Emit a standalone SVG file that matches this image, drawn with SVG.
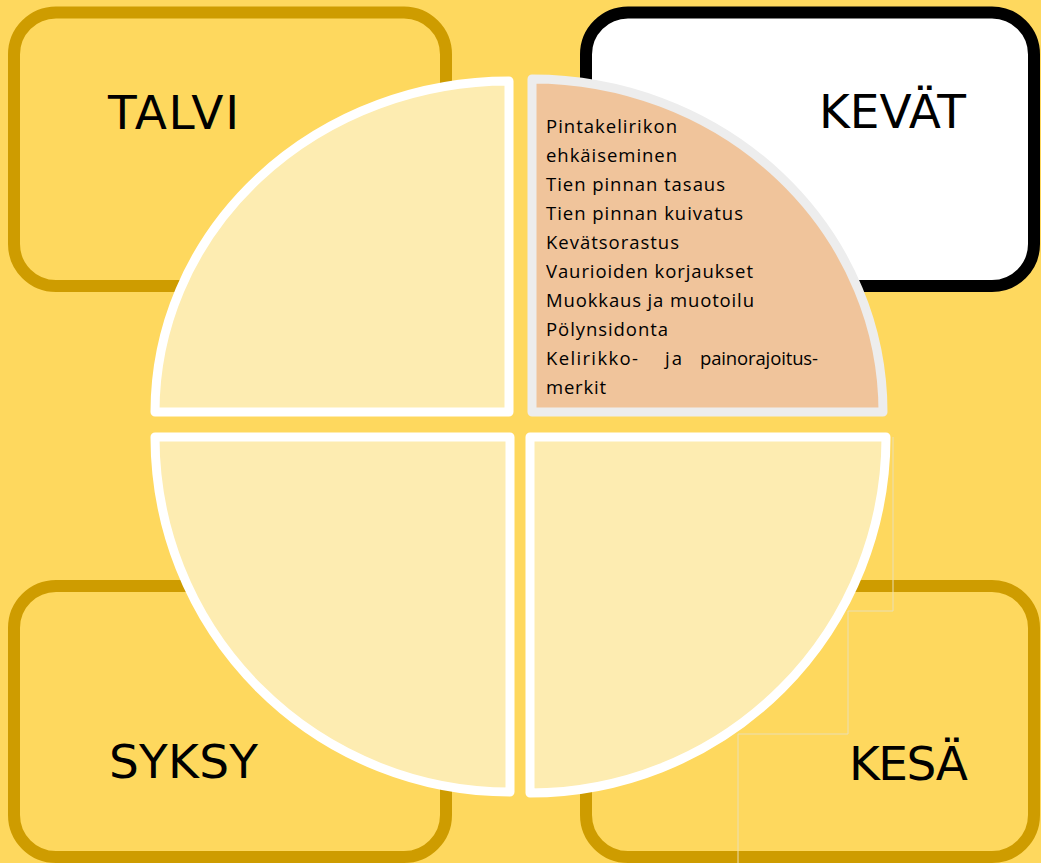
<svg xmlns="http://www.w3.org/2000/svg" width="1041" height="863" viewBox="0 0 1041 863">
  <style>
    .box { fill: #FED85E; stroke: #CE9C00; stroke-width: 12; }
    .boxw { fill: #FFFFFF; stroke: #000000; stroke-width: 12; }
    .season { font-family: "DejaVu Sans", Verdana, sans-serif; font-size: 47px; fill: #000000; }
    .q { fill: #FDECB1; stroke: #FFFFFF; stroke-width: 9; stroke-linejoin: round; }
    .qs { fill: #F0C49B; stroke: #EDEDED; stroke-width: 9; stroke-linejoin: round; }
    .item { font-family: "Open Sans", "Noto Sans", sans-serif; font-size: 18.5px; fill: #000000; }
    .seam { fill: none; stroke: #EADFB4; stroke-width: 1; }
  </style>
  <rect x="0" y="0" width="1041" height="863" fill="#FED85E"/>

  <g id="talvi">
    <rect class="box" x="14" y="12.5" width="432" height="273.5" rx="42" ry="42"/>
    <text class="season" x="108" y="129" textLength="131" lengthAdjust="spacing">TALVI</text>
  </g>
  <g id="kevat">
    <rect class="boxw" x="586" y="12.5" width="448" height="273.5" rx="42" ry="42"/>
    <text class="season" x="819" y="128" textLength="147" lengthAdjust="spacing">KEVÄT</text>
  </g>
  <g id="syksy">
    <rect class="box" x="14" y="586" width="432" height="271" rx="42" ry="42"/>
    <text class="season" x="109" y="778" textLength="149" lengthAdjust="spacing">SYKSY</text>
  </g>
  <g id="kesa">
    <rect class="box" x="586" y="586" width="448" height="271" rx="42" ry="42"/>
    <text class="season" x="849" y="780" textLength="119" lengthAdjust="spacing">KESÄ</text>
  </g>

  <g id="seams">
    <polyline class="seam" points="893,437 893,611 848,611 848,734 738,734 738,863"/>
  </g>

  <g id="quarter-talvi">
    <path class="q" d="M509,81 L509,412 L155,412 A354,331 0 0 1 509,81 Z"/>
  </g>
  <g id="quarter-syksy">
    <path class="q" d="M510,437 L155,437 A355,355 0 0 0 510,792 Z"/>
  </g>
  <g id="quarter-kesa">
    <path class="q" d="M530,437 L886,437 A356,356 0 0 1 530,793 Z"/>
  </g>
  <g id="quarter-kevat">
    <path class="qs" d="M532,79 L532,412 L883,412 A351,333 0 0 0 532,79 Z"/>
    <text class="item" x="546" y="133" textLength="131" lengthAdjust="spacing">Pintakelirikon</text>
    <text class="item" x="546" y="162" textLength="131" lengthAdjust="spacing">ehkäiseminen</text>
    <text class="item" x="546" y="191" textLength="179" lengthAdjust="spacing">Tien pinnan tasaus</text>
    <text class="item" x="546" y="220" textLength="197" lengthAdjust="spacing">Tien pinnan kuivatus</text>
    <text class="item" x="546" y="249" textLength="133" lengthAdjust="spacing">Kevätsorastus</text>
    <text class="item" x="546" y="278" textLength="207" lengthAdjust="spacing">Vaurioiden korjaukset</text>
    <text class="item" x="546" y="307" textLength="208" lengthAdjust="spacing">Muokkaus ja muotoilu</text>
    <text class="item" x="546" y="336" textLength="122" lengthAdjust="spacing">Pölynsidonta</text>
    <text class="item" x="546" y="365" textLength="92" lengthAdjust="spacing">Kelirikko-</text>
    <text class="item" x="665" y="365" textLength="17" lengthAdjust="spacing">ja</text>
    <text class="item" x="700" y="365" textLength="118" lengthAdjust="spacing">painorajoitus-</text>
    <text class="item" x="546" y="394" textLength="60" lengthAdjust="spacing">merkit</text>
  </g>
</svg>
